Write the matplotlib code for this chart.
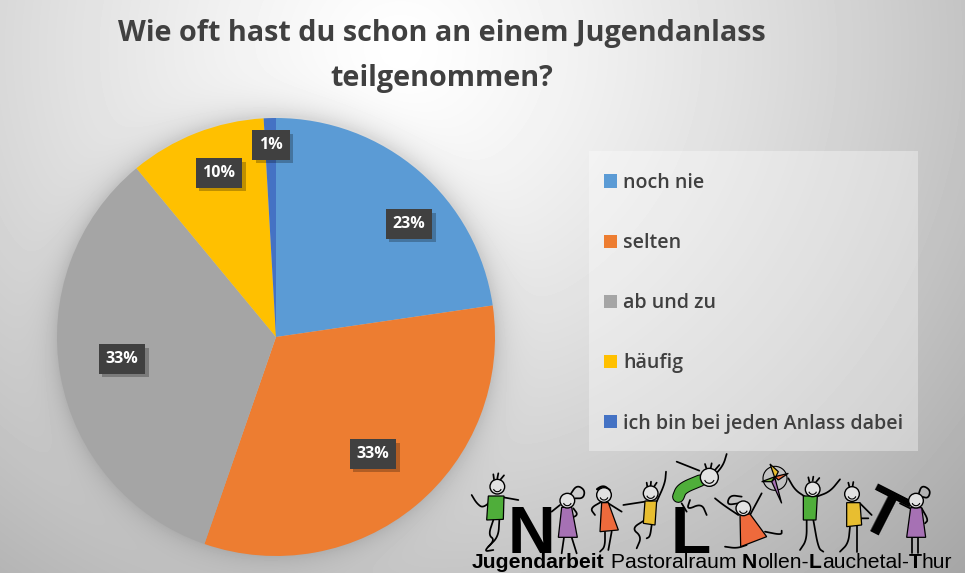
import numpy as np
import matplotlib
matplotlib.use("Agg")
import matplotlib.pyplot as plt
import matplotlib.patheffects as pe
from matplotlib.patches import Rectangle, Polygon, Circle, Arc

title = "Wie oft hast du schon an einem Jugendanlass\nteilgenommen?"
categories = ["noch nie", "selten", "ab und zu", "häufig", "ich bin bei jeden Anlass dabei"]
# wedge shares as drawn in the picture
wedge_shares = [22.7, 32.6, 33.7, 10.1, 0.9]
# labels as printed in the picture
value_labels = ["23%", "33%", "33%", "10%", "1%"]
colors = ["#5B9BD5", "#ED7D31", "#A5A5A5", "#FFC000", "#4472C4"]
label_px = [(409, 224), (373, 454), (122, 359), (219, 173), (271, 145)]

W, H = 965, 573
fig = plt.figure(figsize=(W / 100, H / 100), dpi=100)
ax = fig.add_axes([0, 0, 1, 1])
CX, CY, R = 276, 337, 219

# background: radial gradient with soft shadow round the pie
yy, xx = np.mgrid[0:H, 0:W]
r = np.hypot((xx - 400) / 1.0, (yy - 50) / 0.95)
bg = 255 - 80 * np.clip(r / 720, 0, 1.25) ** 1.25
d = np.hypot(xx - CX, yy - CY + 3)
bg = bg - 30 * np.exp(-np.clip(d - R, 0, None) / 13)
ax.imshow(np.clip(bg, 0, 255), cmap="gray", vmin=0, vmax=255, extent=(0, W, 0, H),
          origin="upper", zorder=0, aspect="auto")


def P(x, y):
    return (x, H - y)


wedges, _ = ax.pie(wedge_shares, colors=colors, startangle=90, counterclock=False,
                   center=P(CX, CY), radius=R, frame=True,
                   wedgeprops={"linewidth": 0, "zorder": 2})
ax.set_xlim(0, W)
ax.set_ylim(0, H)
ax.set_aspect("auto")
ax.axis("off")

sans = ["Open Sans", "DejaVu Sans"]
ax.text(*P(442, 56), title, ha="center", va="center", fontsize=20.7, fontweight="bold",
        color="#404040", family=sans, linespacing=1.72, zorder=5)

for lab, (x, y) in zip(value_labels, label_px):
    t = ax.text(*P(x, y), lab, ha="center", va="center", color="white", fontsize=11.5,
                fontweight="bold", family=sans, zorder=6,
                bbox=dict(boxstyle="square,pad=0.42", fc="#404040", ec="none"))
    t.get_bbox_patch().set_path_effects([
        pe.SimplePatchShadow(offset=(2.5, -2.5), shadow_rgbFace="#000000", alpha=0.25),
        pe.Normal()])

# legend box
ax.add_patch(Rectangle(P(589, 451), 329, 300, fc="white", alpha=0.35, ec="none", zorder=3))
leg = ax.legend(wedges, categories, loc="upper left", bbox_to_anchor=(604 / W, 1 - 173 / H),
                bbox_transform=fig.transFigure, frameon=False, borderaxespad=0, borderpad=0,
                labelspacing=2.05, handlelength=0.67, handleheight=0.67, handletextpad=0.31,
                prop={"family": sans, "size": 14.1, "weight": "semibold"}, labelcolor="#404040")
leg.set_zorder(4)


# logo (drawn from zoomed crop coordinates)
def Z(x, y):
    return (460 + x / 3, H - (440 + y / 3))


def smooth(a, n=3):
    for _ in range(n):
        q = 0.75 * a[:-1] + 0.25 * a[1:]
        s = 0.25 * a[:-1] + 0.75 * a[1:]
        m = np.empty((2 * len(q), 2))
        m[0::2], m[1::2] = q, s
        a = np.vstack([a[0], m, a[-1]])
    return a


def line(*pts, lw=1.25):
    a = smooth(np.array([Z(*p) for p in pts]))
    ax.plot(a[:, 0], a[:, 1], color="black", lw=lw, zorder=8, solid_capstyle="round",
            solid_joinstyle="round", scalex=False, scaley=False)


def poly(color, *pts):
    ax.add_patch(Polygon([Z(*p) for p in pts], closed=True, fc=color, ec="black", lw=0.9, zorder=9))


def head(x, y, rad=22):
    cx, cy = Z(x, y)
    ax.add_patch(Circle((cx, cy), rad / 3, fc="#E2E2E2", ec="black", lw=1.0, zorder=10))
    ax.add_patch(Arc((cx, cy - 1), rad / 3 * 1.1, rad / 3 * 1.1, theta1=200, theta2=340,
                     color="black", lw=0.8, zorder=11))


GREEN, PURPLE, RED, YEL = "#4FAE3A", "#A671B4", "#EE6A3C", "#E8BE30"
# big letters
bold = ["Liberation Sans"]
ax.text(*Z(213, 340), "N", fontsize=47.5, fontweight="bold", family=bold, ha="center", va="baseline", zorder=7)
ax.text(*Z(692, 340), "L", fontsize=47.5, fontweight="bold", family=bold, ha="center", va="baseline", zorder=7)
ax.text(*Z(1262, 235), "T", fontsize=47.5, fontweight="bold", family=bold, ha="center", va="center",
        rotation=-27, zorder=7)

# 1 green
line((105, 170), (70, 205), (50, 190), (35, 165))
line((130, 172), (175, 180))
line((100, 240), (85, 285), (105, 300), (70, 335), (100, 330))
line((118, 240), (115, 290), (85, 320))
poly(GREEN, (85, 168), (132, 168), (130, 238), (80, 240))
head(112, 140)
line((102, 118), (100, 103)); line((112, 115), (115, 100)); line((122, 118), (132, 106))
# 2 purple
line((300, 195), (275, 215)); line((340, 205), (355, 225), (330, 235))
line((312, 292), (305, 340)); line((335, 292), (350, 340))
poly(PURPLE, (305, 202), (335, 202), (352, 292), (295, 292))
head(322, 182)
line((330, 165), (350, 135), (375, 150), (370, 175), (345, 175))
# 3 orange
line((425, 185), (390, 205), (405, 225)); line((445, 190), (485, 215))
line((435, 275), (435, 320), (420, 335)); line((455, 275), (445, 330))
poly(RED, (425, 188), (445, 188), (475, 270), (420, 275))
head(432, 165)
line((425, 145), (405, 150), (430, 135), (450, 150))
# 4 yellow
line((555, 185), (490, 195)); line((590, 185), (615, 130), (618, 95))
line((555, 240), (515, 265), (545, 290), (530, 325)); line((575, 255), (570, 290), (560, 295))
poly(YEL, (555, 183), (590, 183), (585, 255), (550, 250))
head(572, 160)
line((562, 140), (560, 128)); line((572, 137), (573, 125)); line((582, 140), (590, 128))
# 5 green jumper
line((690, 180), (680, 210), (725, 190), (740, 225)); line((665, 190), (680, 215))
line((718, 92), (650, 65)); line((765, 105), (790, 75), (800, 42))
jump = smooth(np.array([Z(655, 170), Z(665, 145), Z(720, 122)]))
ax.plot(jump[:, 0], jump[:, 1], color="black", lw=9, zorder=9, solid_capstyle="round", scalex=False, scaley=False)
ax.plot(jump[:, 0], jump[:, 1], color=GREEN, lw=7.5, zorder=9, solid_capstyle="round", scalex=False, scaley=False)
head(748, 112, 27)
line((740, 88), (735, 72)); line((752, 85), (755, 70)); line((765, 90), (778, 75))
# 6 orange jumper
line((835, 225), (790, 195), (765, 175)); line((870, 225), (905, 160))
line((860, 315), (830, 325), (795, 320)); line((915, 275), (965, 285), (965, 272))
poly(RED, (840, 222), (870, 222), (920, 290), (842, 320))
head(850, 205)
line((835, 190), (800, 195), (810, 165), (845, 170))
# 7 kite
kx, ky = Z(945, 115)
ax.add_patch(Circle((kx, ky), 12, fc="none", ec="black", lw=0.8, zorder=9))
poly("#7CB342", (945, 110), (905, 125), (935, 125))
poly(PURPLE, (945, 115), (965, 190), (935, 125))
poly(YEL, (945, 115), (930, 72), (955, 95))
poly(RED, (945, 110), (985, 100), (955, 120))
# 8 green
line((1035, 170), (1005, 150), (985, 115)); line((1070, 170), (1110, 155), (1140, 118))
line((1040, 240), (1040, 300), (1020, 330)); line((1060, 240), (1075, 325), (1090, 335))
poly(GREEN, (1030, 168), (1072, 168), (1068, 240), (1030, 240))
head(1058, 148)
line((1048, 125), (1045, 112)); line((1058, 122), (1060, 110)); line((1068, 126), (1078, 114))
# 9 yellow
line((1165, 190), (1160, 235), (1225, 235)); line((1200, 190), (1235, 225))
line((1170, 260), (1165, 310), (1140, 335)); line((1190, 258), (1190, 335))
poly(YEL, (1160, 188), (1200, 188), (1205, 255), (1160, 260))
head(1176, 162)
line((1168, 140), (1165, 128)); line((1178, 138), (1180, 126))
# 10 purple
line((1350, 205), (1320, 190)); line((1385, 205), (1405, 240), (1395, 250))
line((1355, 292), (1355, 340)); line((1375, 292), (1375, 340))
poly(PURPLE, (1352, 203), (1385, 203), (1397, 292), (1340, 292))
head(1368, 182)
line((1375, 165), (1385, 135), (1412, 150), (1405, 175), (1385, 170))

# caption with bold initials
parts = [("Jugendarbeit", "bold"), (" Pastoralraum ", "normal"), ("N", "bold"), ("ollen-", "normal"),
         ("L", "bold"), ("auchetal-", "normal"), ("T", "bold"), ("hur", "normal")]
fig.canvas.draw()
rend = fig.canvas.get_renderer()
x = 472.0
for s, w in parts:
    t = ax.text(x, H - 568.5, s.replace(" ", "\u00a0"), fontsize=15.2, fontweight=w, family=bold, color="black",
                ha="left", va="baseline", zorder=11)
    x += t.get_window_extent(rend).width

fig.savefig("out.png", dpi=100)
